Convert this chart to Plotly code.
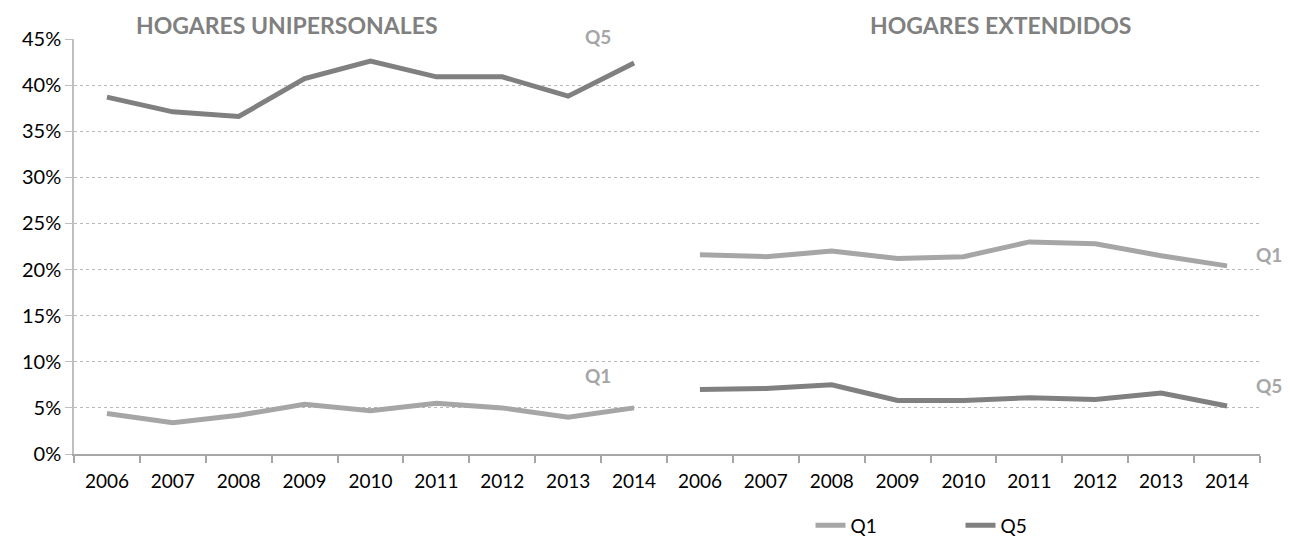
import plotly.graph_objects as go

years = ["2006", "2007", "2008", "2009", "2010", "2011", "2012", "2013", "2014"]

# HOGARES UNIPERSONALES
uni_q1 = [4.4, 3.4, 4.2, 5.4, 4.7, 5.5, 5.0, 4.0, 5.0]
uni_q5 = [38.7, 37.1, 36.6, 40.7, 42.6, 40.9, 40.9, 38.8, 42.4]

# HOGARES EXTENDIDOS
ext_q1 = [21.6, 21.4, 22.0, 21.2, 21.4, 23.0, 22.8, 21.5, 20.4]
ext_q5 = [7.0, 7.1, 7.5, 5.8, 5.8, 6.1, 5.9, 6.6, 5.2]

y_ticks = [0, 5, 10, 15, 20, 25, 30, 35, 40, 45]

c_q1 = "#A6A6A6"
c_q5 = "#808080"
font = "Lato, 'Open Sans', sans-serif"

n = len(years)
x_left = list(range(n))
x_right = list(range(n, 2 * n))

fig = go.Figure()
fig.add_trace(go.Scatter(x=x_left, y=[v / 100 for v in uni_q1], mode="lines", name="Q1",
                         legendgroup="q1", line=dict(color=c_q1, width=5)))
fig.add_trace(go.Scatter(x=x_right, y=[v / 100 for v in ext_q1], mode="lines", name="Q1",
                         legendgroup="q1", showlegend=False, line=dict(color=c_q1, width=5)))
fig.add_trace(go.Scatter(x=x_left, y=[v / 100 for v in uni_q5], mode="lines", name="Q5",
                         legendgroup="q5", line=dict(color=c_q5, width=5)))
fig.add_trace(go.Scatter(x=x_right, y=[v / 100 for v in ext_q5], mode="lines", name="Q5",
                         legendgroup="q5", showlegend=False, line=dict(color=c_q5, width=5)))

# panel titles
title = dict(showarrow=False, xref="paper", yref="paper", xanchor="center", yanchor="middle",
             font=dict(size=23, color="#808080", family=font))
fig.add_annotation(text="<b>HOGARES UNIPERSONALES</b>", x=0.18, y=1.034, **title)
fig.add_annotation(text="<b>HOGARES EXTENDIDOS</b>", x=0.781, y=1.034, **title)

# series labels
lab = dict(showarrow=False, xref="paper", yref="paper", xanchor="center", yanchor="middle",
           font=dict(size=19, color=c_q1, family=font))
fig.add_annotation(text="<b>Q5</b>", x=0.442, y=1.005, **lab)
fig.add_annotation(text="<b>Q1</b>", x=0.442, y=0.19, **lab)
fig.add_annotation(text="<b>Q1</b>", x=1.008, y=0.48, **lab)
fig.add_annotation(text="<b>Q5</b>", x=1.008, y=0.164, **lab)

fig.update_layout(
    width=1274, height=530,
    margin=dict(l=66, r=22, t=31, b=84),
    plot_bgcolor="white", paper_bgcolor="white",
    font=dict(family=font, size=20, color="#000000"),
    showlegend=True,
    legend=dict(orientation="h", x=0.621, y=0.024, xref="paper", yref="container",
                xanchor="left", yanchor="middle",
                entrywidth=105, entrywidthmode="pixels", font=dict(size=19, color="#000000"),
                bgcolor="rgba(0,0,0,0)"),
)

fig.update_xaxes(
    range=[-0.5, 2 * n - 0.5],
    tickmode="array", tickvals=x_left + x_right, ticktext=years + years,
    ticks="", ticklabelstandoff=9,
    showgrid=False, zeroline=False,
    showline=True, linecolor="#A6A6A6", linewidth=1.5,
    minor=dict(tickmode="array", tickvals=[i - 0.5 for i in range(2 * n + 1)],
               ticks="outside", ticklen=7, tickcolor="#A6A6A6", tickwidth=1.5, showgrid=False),
    tickfont=dict(size=19, color="#000000"),
)
fig.update_yaxes(
    range=[0, 0.45],
    tickmode="array", tickvals=[v / 100 for v in y_ticks], ticktext=[f"{v}%" for v in y_ticks],
    ticks="outside", ticklen=7, tickcolor="#BFBFBF",
    showgrid=True, gridcolor="#B8B8B8", griddash="dot", gridwidth=1,
    zeroline=False, showline=True, linecolor="#BFBFBF", linewidth=1.5,
    tickfont=dict(size=20, color="#000000"),
)

fig.write_html("out.html")
